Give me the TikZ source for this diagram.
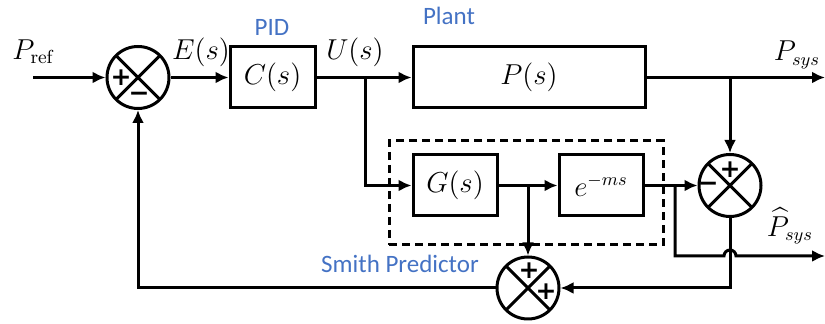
\documentclass[tikz,border=0pt]{standalone}
\usepackage{amsmath}
\usepackage{fontspec}
\usepackage{tikz}
\usetikzlibrary{arrows.meta, positioning, calc}
\newfontfamily\labelfont{Carlito}
\newfontfamily\signfont{DejaVu Sans}
\definecolor{labelblue}{RGB}{68,114,196}

\begin{document}
\begin{tikzpicture}[x=0.5pt, y=-0.5pt, line width=1.5pt,
  every node/.style={font=\fontsize{13.5}{15}\selectfont},
  block/.style={draw, rectangle, line width=1.5pt, minimum height=30.5pt, inner sep=0pt},
  sumnode/.style={draw, circle, line width=1.5pt, minimum size=31pt, inner sep=0pt,
    path picture={\draw[line width=1.5pt] (path picture bounding box.north west) -- (path picture bounding box.south east)
      (path picture bounding box.north east) -- (path picture bounding box.south west);}},
  sign/.style={font=\fontsize{12.5}{13}\selectfont\signfont\bfseries, inner sep=0pt},
  tag/.style={font=\fontsize{12.5}{14}\selectfont\labelfont, text=labelblue},
  arr/.style={-{Latex[length=6.5pt, width=6pt]}}]
  \useasboundingbox (0,0) rectangle (825,324);
  \node[block, minimum width=42.5pt] (C) at (272.5,77.5) {$C(s)$};
  \node[block, minimum width=116pt] (P) at (529,77.5) {$P(s)$};
  \node[block, minimum width=42pt] (G) at (455,185.5) {$G(s)$};
  \node[block, minimum width=42pt] (D) at (601,185.5) {$e^{-ms}$};
  \node[draw, dash pattern=on 4pt off 2.5pt, minimum width=137pt, minimum height=52pt, inner sep=0pt] (smith) at (526,193) {};
  \node[sumnode] (s1) at (138,77.5) {};
  \node[sumnode] (s2) at (730,185.5) {};
  \node[sumnode] (s3) at (528,288) {};
  \node[sign] (p1) at (121,78) {+};
  \node[sign] (m1) at (139,97) {−};
  \node[sign] (p2) at (730,170) {+};
  \node[sign] (m2) at (708,187) {−};
  \node[sign] (p3) at (529,271) {+};
  \node[sign] (p4) at (546,292) {+};
  \node (pref) at (33,52) {$P_{\mathrm{ref}}$};
  \node (E) at (201,52) {$E(s)$};
  \node (U) at (355,52) {$U(s)$};
  \node (psys) at (797,55) {$P_{sys}$};
  \node (phat) at (790,226) {$\widehat{P}_{sys}$};
  \node[tag] (pid) at (272,27) {PID};
  \node[tag] (plant) at (449,16) {Plant};
  \node[tag] (smithlbl) at (400,264) {Smith Predictor};
  \coordinate (in) at (33,77.5);
  \coordinate (out) at (825,77.5);
  \coordinate (bu) at (365,77.5);
  \coordinate (bp) at (730,77.5);
  \coordinate (bg) at (528,185.5);
  \coordinate (bd) at (675,185.5);
  \coordinate (hop) at (724,256);
  \coordinate (hat) at (825,256);
  \coordinate (b2) at (730,288);
  \coordinate (b3) at (138,288);
  \draw[arr] (in) -- (s1);
  \draw[arr] (s1) -- (C);
  \draw[arr] (C) -- (P);
  \draw[arr] (P) -- (out);
  \draw[arr] (bu) |- (G);
  \draw[arr] (G) -- (D);
  \draw[arr] (bg) -- (s3);
  \draw[arr] (D) -- (s2);
  \draw[arr] (bp) -- (s2);
  \draw[arr] (bd) |- (hop) arc[start angle=180, end angle=360, radius=6] -- (hat);
  \draw[arr] (s2) -- (b2) -- (s3);
  \draw[arr] (s3) -- (b3) -- (s1);
\end{tikzpicture}
\end{document}
